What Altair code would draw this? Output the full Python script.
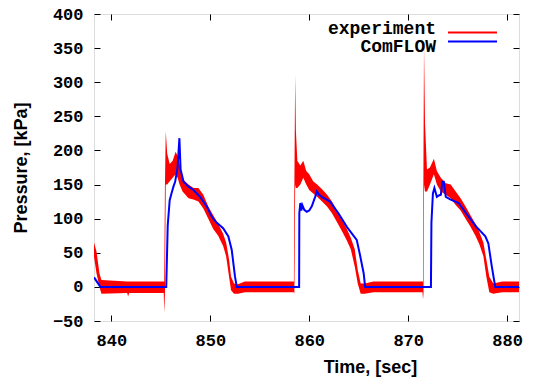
import altair as alt
import pandas as pd

# Experiment: noisy band read as lower/upper envelope
exp_t = [838.25, 838.5, 838.8, 839.0, 841.6, 841.7, 841.8, 845.3, 845.35, 845.42, 845.5, 845.65, 845.9,
         846.2, 846.5, 846.7, 846.9, 847.2, 847.8, 848.3, 848.8, 849.3, 849.8, 850.3, 850.8,
         851.3, 851.6, 851.9, 852.1, 852.4, 852.8, 853.5, 858.45,
         858.5, 858.58, 858.65, 858.8, 859.1, 859.4, 859.7, 860.0, 860.4, 860.8, 861.3, 861.8,
         862.3, 862.8, 863.3, 863.8, 864.2, 864.6, 864.9, 865.2, 865.6, 866.5, 871.45,
         871.5, 871.55, 871.6, 871.7, 871.9, 872.2, 872.6, 872.9, 873.3, 873.8, 874.3, 874.8,
         875.3, 875.8, 876.3, 876.8, 877.2, 877.6, 877.9, 878.2, 878.6, 879.5, 881.2]
exp_lo = [44, 20, 0, -10, -9, -14, -9, -9, -38, -10, 150, 150, 155,
          160, 165, 160, 150, 140, 130, 128, 125, 115, 100, 85, 75,
          60, 45, 15, -5, -10, -10, -8, -8,
          -10, 150, 145, 145, 150, 160, 150, 142, 137, 132, 125, 118,
          108, 95, 82, 68, 55, 30, 5, -10, -10, -8, -8,
          -18, -10, 150, 140, 140, 150, 165, 150, 140, 135, 130, 120,
          112, 100, 88, 75, 62, 45, 15, -8, -10, -8, -8]
exp_hi = [65, 52, 20, 10, 8, 8, 8, 8, 8, 150, 228, 195, 180,
          185, 198, 192, 180, 158, 150, 145, 145, 135, 118, 105, 92,
          78, 65, 40, 15, 5, 4, 8, 8,
          150, 311, 230, 185, 178, 185, 170, 165, 155, 150, 143, 135,
          125, 112, 98, 85, 72, 55, 25, 5, 5, 8, 8,
          8, 200, 355, 240, 172, 175, 188, 170, 160, 152, 150, 140,
          130, 118, 105, 92, 80, 65, 40, 15, 5, 8, 8]

# ComFLOW simulation
cf_t = [838.25, 838.9, 845.55, 845.7, 845.9, 846.1, 846.3, 846.45, 846.7, 846.88, 847.0, 847.3,
        847.8, 848.3, 848.97, 849.65, 850.15, 850.66, 851.3, 851.83, 852.17, 852.5, 852.68,
        858.98, 859.0, 859.1, 859.2, 859.3, 859.5, 859.75, 860.0, 860.26, 860.6, 860.77, 861.0,
        861.27, 862.1, 862.95, 863.8, 864.8, 865.1, 865.5, 865.65,
        872.3, 872.35, 872.5, 872.65, 872.9, 873.1, 873.3, 873.45, 873.6, 873.8, 874.3, 875.1,
        876.1, 876.9, 877.8, 878.1, 878.45, 878.8, 881.2]
cf_p = [14, 0, 0, 90, 127, 138, 148, 154, 176, 218, 172, 154,
        147, 142, 132, 118, 103, 94, 86, 74, 54, 15, 0,
        0, 108, 123, 112, 120, 113, 110, 112, 118, 132, 140, 135,
        132, 125, 108, 88, 69, 49, 20, 0,
        0, 94, 137, 145, 132, 134, 135, 154, 154, 132, 128, 123,
        103, 88, 74, 64, 30, 0, 0]

series = ["experiment", "ComFLOW"]
colors = ["#ff0000", "#0000ff"]
x_ticks = [840, 850, 860, 870, 880]
y_ticks = [-50, 0, 50, 100, 150, 200, 250, 300, 350, 400]

exp_df = pd.DataFrame({"t": exp_t, "lo": exp_lo, "hi": exp_hi})
cf_df = pd.DataFrame({"t": cf_t, "p": cf_p})
leg_df = pd.DataFrame({"name": series, "color": colors, "row": ["a", "b"]})

xs = alt.Scale(domain=[838.25, 881.2], nice=False, zero=False)
ys = alt.Scale(domain=[-50, 400], nice=False, zero=False)

mono = "Liberation Mono"
sans = "Liberation Sans"

x_main = alt.Axis(values=x_ticks, tickSize=6, offset=-6, domain=False, grid=False,
                  labelFont=mono, labelFontWeight="bold", labelFontSize=17, labelColor="black",
                  labelPadding=11, tickColor="black", title="Time, [sec]",
                  titleFont=sans, titleFontWeight="bold", titleFontSize=18, titleColor="black",
                  titleX=276, titleY=57, titleAlign="center", titleBaseline="alphabetic")
y_main = alt.Axis(values=y_ticks, tickSize=6, offset=-6, domain=False, grid=False,
                  labelFont=mono, labelFontWeight="bold", labelFontSize=17, labelColor="black",
                  labelPadding=11, tickColor="black", title="Pressure, [kPa]",
                  titleFont=sans, titleFontWeight="bold", titleFontSize=18, titleColor="black",
                  titleX=-74, titleY=153.5, titleAngle=-90, titleAlign="center",
                  titleBaseline="alphabetic")
x_mirror = alt.Axis(values=x_ticks, orient="top", tickSize=6, offset=-6, domain=False,
                    grid=False, labels=False, title=None, tickColor="black")
y_mirror = alt.Axis(values=y_ticks, orient="right", tickSize=6, offset=-6, domain=False,
                    grid=False, labels=False, title=None, tickColor="black")

exp_layer = alt.Chart(exp_df).mark_area(color=colors[0], clip=True, opacity=1).encode(
    x=alt.X("t:Q", scale=xs, axis=x_mirror),
    y=alt.Y("lo:Q", scale=ys, axis=y_mirror),
    y2="hi:Q",
)

cf_layer = alt.Chart(cf_df).mark_line(color=colors[1], strokeWidth=2, clip=True).encode(
    x=alt.X("t:Q", scale=xs, axis=x_main),
    y=alt.Y("p:Q", scale=ys, axis=y_main),
)

leg_text = alt.Chart(leg_df).mark_text(align="right", baseline="middle", font=mono,
                                       fontWeight="bold", fontSize=18, color="black").encode(
    text="name:N",
    x=alt.value(342),
    y=alt.Y("row:O", axis=None, scale=alt.Scale(range=[15, 33], padding=0)),
)
leg_line = alt.Chart(leg_df).mark_rule(strokeWidth=2).encode(
    x=alt.value(354),
    x2=alt.value(403),
    y=alt.Y("row:O", axis=None, scale=alt.Scale(range=[14, 32], padding=0)),
    color=alt.Color("color:N", scale=None, legend=None),
)

legend = alt.layer(leg_text, leg_line).resolve_scale(y="independent")

chart = alt.layer(exp_layer, cf_layer, legend).resolve_axis(
    x="independent", y="independent"
).resolve_scale(y="shared").properties(
    width=425, height=307,
    autosize=alt.AutoSizeParams(type="none"),
    padding={"left": 94, "top": 14, "right": 19, "bottom": 60},
).configure_view(stroke="black", strokeWidth=1.2).configure(background="white")

chart.save("out.html", embed_options={"renderer": "svg", "actions": False})
